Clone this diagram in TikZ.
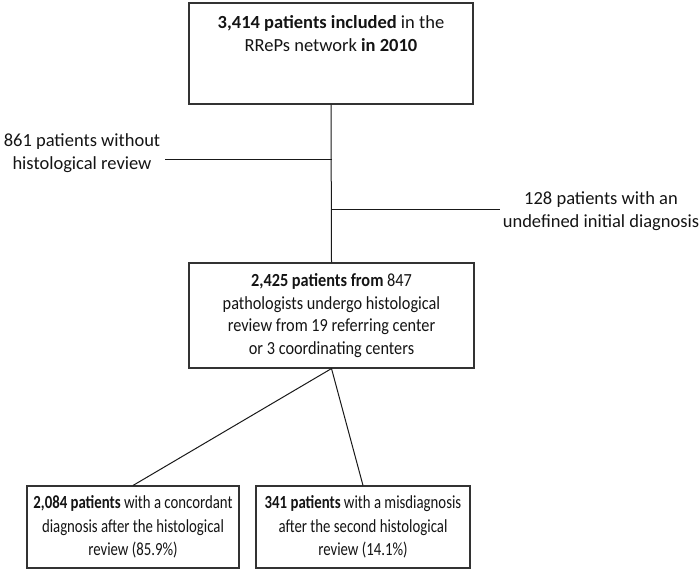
\documentclass[tikz,border=0pt]{standalone}
\usepackage{fontspec}
\setmainfont{Carlito}
\newfontfamily\midfont[FakeStretch=0.88]{Carlito}
\newfontfamily\botfont[FakeStretch=0.80]{Carlito}
\begin{document}
\begin{tikzpicture}[x=1pt,y=-1pt,
  box/.style={draw=black!80, line width=1.1pt, inner sep=0pt},
  txt/.style={align=center, inner sep=0pt, text=black!92, font=\fontsize{18.5}{22.8}\selectfont},
  conn/.style={draw=black!90, line width=1pt}]
\useasboundingbox (0,0) rectangle (700,571);
% boxes
\node[box, minimum width=284pt, minimum height=101pt] (top) at (331,53.5) {};
\node[txt] (toptext) at (331,33.5) {\textbf{3,414 patients included} in the\\RRePs network \textbf{in 2010}};
\node[box, txt, font=\fontsize{18.5}{22.6}\midfont, minimum width=285pt, minimum height=105pt] (mid) at (331.5,315.5)
  {\textbf{2,425 patients from} 847\\pathologists undergo histological\\review from 19 referring center\\or 3 coordinating centers};
\node[box, txt, font=\fontsize{18.5}{23.5}\botfont, minimum width=212pt, minimum height=82pt] (bl) at (133,527)
  {\textbf{2,084 patients} with a concordant\\diagnosis after the histological\\review (85.9\%)};
\node[box, txt, font=\fontsize{18.5}{23.5}\botfont, minimum width=214pt, minimum height=82pt] (br) at (363,527)
  {\textbf{341 patients} with a misdiagnosis\\after the second histological\\review (14.1\%)};
% side labels
\node[txt] (lefttext) at (82,153.5) {861 patients without\\histological review};
\node[txt] (righttext) at (601,211) {128 patients with an\\undefined initial diagnosis};
% connectors
\draw[conn] (top.south) -- (mid.north);
\coordinate (lj) at (331.5,159.5);
\coordinate (le) at (165,159.5);
\coordinate (rj) at (331.5,209);
\coordinate (re) at (500,209);
\draw[conn] (le) -- (lj);
\draw[conn] (rj) -- (re);
\draw[conn] (mid.south) -- (bl.north);
\draw[conn] (mid.south) -- (br.north);
\end{tikzpicture}
\end{document}
